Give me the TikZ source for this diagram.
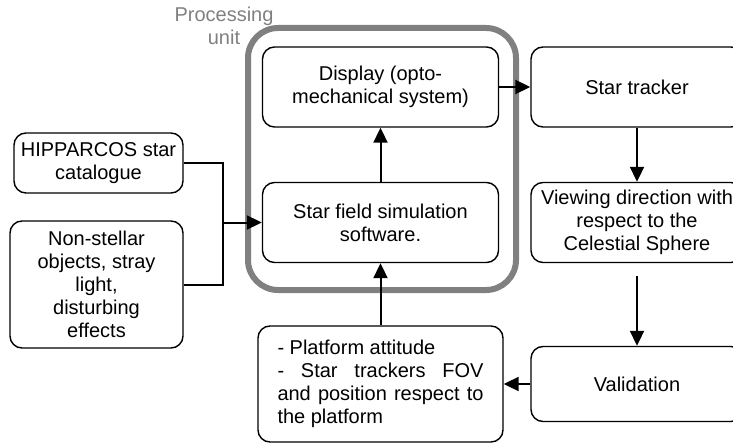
\documentclass[tikz,border=0pt]{standalone}
\usepackage{fontspec}
\setmainfont{Liberation Sans}
\usepackage{xcolor}
\usetikzlibrary{arrows.meta}
\definecolor{procgray}{RGB}{128,128,128}

\begin{document}
\begin{tikzpicture}[
        x=0.5pt, y=-0.5pt,
        font=\fontsize{10pt}{11.5pt}\selectfont,
        box/.style = {draw, line width=0.7pt, rounded corners=6pt, align=center, inner sep=2pt},
        unitbox/.style = {draw=procgray, line width=3pt, rounded corners=15pt, minimum width=134pt, minimum height=131pt},
        arrow/.style = {-{Triangle[length=7.5pt,width=7pt]}, line width=1pt},
        link/.style = {line width=1pt}
    ]
    \clip (0,0) rectangle (733,444);

    % Processing unit frame and its label
    \node[unitbox] (pu) at (382,159) {};
    \node[text=procgray, align=center] (pulabel) at (224,26) {Processing\\unit};

    % Boxes inside the processing unit
    \node[box, minimum width=118pt, minimum height=40pt] (disp) at (380.5,87) {Display (opto-\\mechanical system)};
    \node[box, minimum width=118pt, minimum height=40pt] (sim) at (380.5,222.5) {Star field simulation\\software.};

    % Inputs on the left
    \node[box, minimum width=84.5pt, minimum height=30pt] (hip) at (98.5,163) {HIPPARCOS star\\catalogue};
    \node[box, minimum width=86.5pt, minimum height=63.5pt] (non) at (96.5,284.5) {Non-stellar\\objects, stray\\light,\\disturbing\\effects};
    \coordinate (join) at (223,222.5);

    % Chain on the right
    \node[box, minimum width=106pt, minimum height=40pt] (trk) at (637,87) {Star tracker};
    \node[box, minimum width=106pt, minimum height=40pt] (view) at (637,222.5) {Viewing direction with\\respect to the\\Celestial Sphere};
    \node[box, minimum width=106pt, minimum height=37.5pt] (val) at (637,384) {Validation};

    % Platform data
    \node[box, minimum width=122.5pt, minimum height=58pt, align=justify, text width=103pt] (plat) at (380.5,384)
        {- Platform attitude\\- Star trackers FOV\linebreak and position respect to\linebreak the platform};

    % Connectors
    \draw[link] (hip) -| (join);
    \draw[link] (non) -| (join);
    \draw[arrow] (join) -- (sim);
    \draw[arrow] (sim) -- (disp);
    \draw[arrow] (disp) -- (trk);
    \draw[arrow] (trk) -- (view);
    \draw[arrow, shorten <=6.5pt] (view) -- (val);
    \draw[arrow] (val) -- (plat);
    \draw[arrow] (plat) -- (sim);

\end{tikzpicture}
\end{document}
